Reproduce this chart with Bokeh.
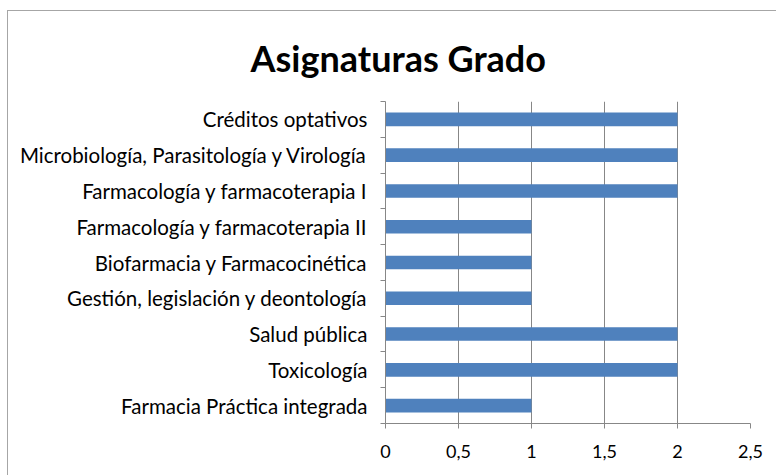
from bokeh.plotting import figure
from bokeh.models import FixedTicker
from bokeh.embed import file_html
from bokeh.resources import INLINE

categories = [
    "Farmacia Práctica integrada",
    "Toxicología",
    "Salud pública",
    "Gestión, legislación y deontología",
    "Biofarmacia y Farmacocinética",
    "Farmacología y farmacoterapia II",
    "Farmacología y farmacoterapia I",
    "Microbiología, Parasitología y Virología",
    "Créditos optativos",
]
values = [1, 2, 2, 1, 1, 1, 2, 2, 2]
x_ticks = [0, 0.5, 1, 1.5, 2, 2.5]
x_tick_labels = ["0", "0,5", "1", "1,5", "2", "2,5"]
title_text = "Asignaturas Grado"

positions = list(range(1, len(categories) + 1))

OX, OY = 8, 11              # offset of the canvas on the page (border + margin)
W, H = 777 - OX, 476 - OY
FL = 385 - OX
FR = W - (750 - OX)
FT = 101 - OY
FB = H - (423 - OY)

p = figure(width=W, height=H, output_backend="svg", toolbar_location=None,
           x_range=(0, 2.5), y_range=(0.5, len(categories) + 0.5),
           min_border_left=FL, min_border_right=FR, min_border_top=FT, min_border_bottom=FB,
           title=title_text)
p.styles = {"margin-left": "7px", "margin-top": "10px",
            "border-left": "1px solid #a6a6a6", "border-top": "1px solid #a6a6a6"}
p.outline_line_color = None
p.background_fill_color = "white"
p.border_fill_color = "white"

p.title.text_font = "Lato"
p.title.text_font_style = "bold"
p.title.text_font_size = "36px"
p.title.text_color = "black"
p.title.align = "left"
p.title.offset = (250 - OX) - FL
p.title.standoff = 44

p.hbar(y=positions, right=values, left=0, height=0.38, fill_color="#4F81BD", line_color=None)

grid_grey = "#878787"
# x axis
p.xaxis.ticker = FixedTicker(ticks=x_ticks)
p.xaxis.major_label_overrides = {t: l for t, l in zip(x_ticks, x_tick_labels)}
p.xaxis.axis_line_color = grid_grey
p.xaxis.major_tick_line_color = grid_grey
p.xaxis.major_tick_out = 5
p.xaxis.major_tick_in = 0
p.xaxis.minor_tick_line_color = None
p.xaxis.major_label_standoff = 16
p.xaxis.major_label_text_font = "Lato"
p.xaxis.major_label_text_font_size = "18px"
p.xaxis.major_label_text_color = "black"

# y axis
p.yaxis.ticker = FixedTicker(ticks=positions, minor_ticks=[i + 0.5 for i in range(0, len(categories) + 1)])
p.yaxis.major_label_overrides = {i: c for i, c in zip(positions, categories)}
p.yaxis.axis_line_color = grid_grey
p.yaxis.major_tick_line_color = None
p.yaxis.major_tick_out = 0
p.yaxis.major_tick_in = 0
p.yaxis.minor_tick_line_color = grid_grey
p.yaxis.minor_tick_out = 5
p.yaxis.minor_tick_in = 0
p.yaxis.major_label_standoff = 13
p.yaxis.major_label_text_font = "Lato"
p.yaxis.major_label_text_font_size = "20.5px"
p.yaxis.major_label_text_color = "black"

p.xgrid.ticker = FixedTicker(ticks=x_ticks)
p.xgrid.grid_line_color = grid_grey
p.ygrid.grid_line_color = None

open("out.html", "w").write(file_html(p, INLINE))
